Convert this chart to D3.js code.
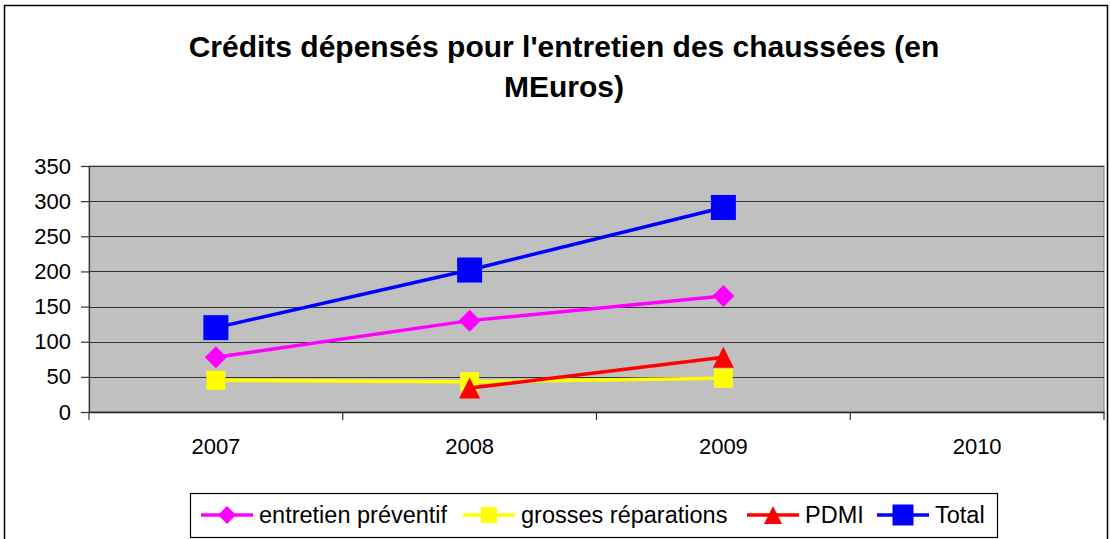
<!DOCTYPE html>
<html><head><meta charset="utf-8">
<script src="https://cdn.jsdelivr.net/npm/d3@7"></script>
<style>body{margin:0;background:#fff;} svg{display:block;}</style>
</head><body>
<svg id="c" width="1110" height="539"></svg>
<script>
const years = ["2007", "2008", "2009", "2010"];
const yTicks = [0, 50, 100, 150, 200, 250, 300, 350];
const titleLines = ["Crédits dépensés pour l'entretien des chaussées (en", "MEuros)"];
const seriesNames = ["entretien préventif", "grosses réparations", "PDMI", "Total"];
const entretienPreventif = [78, 130, 165, null];
const grossesReparations = [45, 43, 48, null];
const pdmi = [null, 34, 78, null];
const total = [120, 202, 291, null];

const colors = ["#FF00FF", "#FFFF00", "#FF0000", "#0000FF"];
const shapes = ["diamond", "square", "triangle", "square"];
const sizes = [22, 19, 21, 25];
const allSeries = [entretienPreventif, grossesReparations, pdmi, total];

const svg = d3.select("#c");
const pl = 89, pr = 1104, pt = 166, pb = 412;
const FONT = "Liberation Sans, Arial, sans-serif";

// outer border
svg.append("rect").attr("x", 4.5).attr("y", 5.5).attr("width", 1103).attr("height", 540)
  .attr("fill", "#fff").attr("stroke", "#000").attr("stroke-width", 1.5);

// title
const title = svg.append("text").attr("text-anchor", "middle")
  .attr("font-family", FONT).attr("font-weight", "bold")
  .attr("font-size", 30).attr("fill", "#000");
titleLines.forEach((t, i) => {
  title.append("tspan").attr("x", 564).attr("y", 57 + i * 40).text(t);
});

const x = d3.scaleBand().domain(years).range([pl, pr]).padding(0);
const y = d3.scaleLinear().domain([0, 350]).range([pb, pt]);

// plot background
svg.append("rect").attr("x", pl).attr("y", pt).attr("width", pr - pl).attr("height", pb - pt)
  .attr("fill", "#C0C0C0").attr("stroke", "#808080").attr("stroke-width", 1);

// gridlines
svg.append("g").selectAll("line").data(yTicks.filter(d => d > 0)).join("line")
  .attr("x1", pl).attr("x2", pr).attr("y1", d => Math.round(y(d)) + 0.5).attr("y2", d => Math.round(y(d)) + 0.5)
  .attr("stroke", "#333").attr("stroke-width", 1.2);

// y axis
const yAxis = d3.axisLeft(y).tickValues(yTicks).tickSize(8).tickPadding(10);
const gy = svg.append("g").attr("transform", `translate(${pl},0)`).call(yAxis);
gy.select(".domain").attr("stroke", "#333").attr("stroke-width", 1.2);
gy.selectAll(".tick line").attr("stroke", "#333").attr("stroke-width", 1.2);
gy.selectAll("text").attr("font-family", FONT).attr("font-size", 22).attr("fill", "#000");

// x axis
const xAxis = d3.axisBottom(x).tickSize(0).tickPadding(26);
const gx = svg.append("g").attr("transform", `translate(0,${pb})`).call(xAxis);
gx.select(".domain").attr("stroke", "#222").attr("stroke-width", 1.5);
gx.selectAll("text").attr("font-family", FONT).attr("font-size", 22).attr("fill", "#000");
// tick marks at band boundaries
svg.append("g").selectAll("line").data(years.concat(["end"])).join("line")
  .attr("x1", d => d === "end" ? pr : x(d)).attr("x2", d => d === "end" ? pr : x(d))
  .attr("y1", pb).attr("y2", pb + 8).attr("stroke", "#333").attr("stroke-width", 1.2);

function markerPath(shape, s) {
  const h = s / 2;
  if (shape === "diamond") return `M0,${-h}L${h},0L0,${h}L${-h},0Z`;
  if (shape === "triangle") return `M0,${-h}L${h},${h}L${-h},${h}Z`;
  return `M${-h},${-h}H${h}V${h}H${-h}Z`;
}

const cx = d => x(d) + x.bandwidth() / 2;
allSeries.forEach((vals, i) => {
  const pts = years.map((yr, j) => ({ yr, v: vals[j] })).filter(p => p.v != null);
  const line = d3.line().x(p => cx(p.yr)).y(p => y(p.v));
  svg.append("path").attr("d", line(pts)).attr("fill", "none")
    .attr("stroke", colors[i]).attr("stroke-width", 3.5);
  svg.append("g").selectAll("path").data(pts).join("path")
    .attr("transform", p => `translate(${cx(p.yr)},${y(p.v)})`)
    .attr("d", markerPath(shapes[i], sizes[i])).attr("fill", colors[i]);
});

// legend
const lg = svg.append("g");
lg.append("rect").attr("x", 190.5).attr("y", 493.5).attr("width", 807).attr("height", 44)
  .attr("fill", "#fff").attr("stroke", "#000").attr("stroke-width", 1.2);
const legendX = [201, 463, 747, 877];
const legendSizes = [18, 16, 18, 21];
seriesNames.forEach((n, i) => {
  const g = lg.append("g").attr("transform", `translate(${legendX[i]},515)`);
  g.append("line").attr("x1", 0).attr("x2", 52).attr("stroke", colors[i]).attr("stroke-width", 3.5);
  g.append("path").attr("transform", "translate(26,0)").attr("d", markerPath(shapes[i], legendSizes[i])).attr("fill", colors[i]);
  g.append("text").attr("x", 58).attr("y", 8).attr("font-family", FONT)
    .attr("font-size", 23.5).attr("fill", "#000").text(n);
});
</script>
</body></html>
